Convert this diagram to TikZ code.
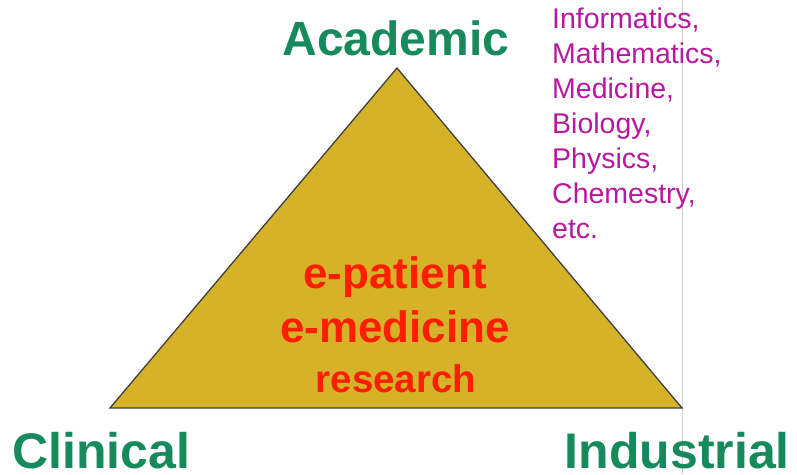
\documentclass[tikz,border=0pt]{standalone}
\usepackage{fontspec}
\setmainfont{Liberation Sans}
\definecolor{tgold}{HTML}{D5B227}
\definecolor{tgreen}{HTML}{168A5C}
\definecolor{tred}{HTML}{FF1E00}
\definecolor{tmag}{HTML}{B8189F}
\definecolor{tgray}{HTML}{CFCFCF}
\begin{document}
\begin{tikzpicture}[x=1pt,y=-1pt,
  corner/.style={font=\fontsize{50}{50}\selectfont\bfseries, text=tgreen, inner sep=0pt, text depth=0pt},
  mid/.style={font=\fontsize{44}{44}\selectfont\bfseries, text=tred, inner sep=0pt},
  fields/.style={font=\fontsize{28.5}{35}\selectfont, text=tmag, inner sep=0pt, align=left}]
\useasboundingbox (0,0) rectangle (797,474);
\coordinate (top) at (397,68);
\coordinate (bl) at (110,408);
\coordinate (br) at (682,408);
\coordinate (lt) at (682,0);
\coordinate (lb) at (682,474);
\draw[tgray, line width=0.8pt] (lt) -- (lb);
\filldraw[fill=tgold, draw=black!75, line width=1.3pt, line join=miter] (top) -- (bl) -- (br) -- cycle;
\node[corner, anchor=base, font=\fontsize{48}{48}\selectfont\bfseries] (acad) at (396,55) {Academic};
\node[corner, anchor=base west] (clin) at (12,468) {Clinical};
\node[corner, anchor=base east] (ind) at (790,468) {Industrial};
\node[mid, anchor=base] (pat) at (395,288) {e-patient};
\node[mid, anchor=base] (med) at (395,342) {e-medicine};
\node[mid, anchor=base, font=\fontsize{38.5}{38.5}\selectfont\bfseries] (res) at (396,392) {research};
\node[fields, anchor=north west] (list) at (552,8) {Informatics,\\Mathematics,\\Medicine,\\Biology,\\Physics,\\Chemestry,\\etc.};
\end{tikzpicture}
\end{document}
